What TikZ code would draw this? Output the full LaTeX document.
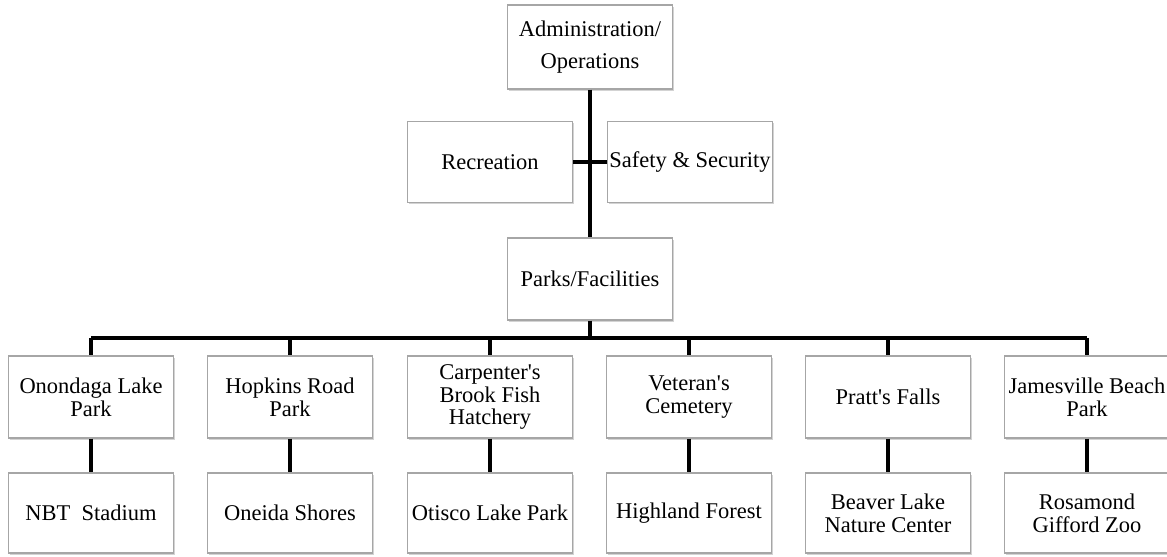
\documentclass[tikz,border=0pt]{standalone}
\usepackage{fontspec}
\setmainfont{Liberation Serif}
\usepackage{tikz}
\usetikzlibrary{positioning,shadows}
\usepackage{xcolor}

\tikzset{
	box/.style={draw=gray!70, fill=white, line width=0.6pt, minimum width=3.3cm,
		minimum height=1.64cm, inner sep=0pt, align=center,
		font=\fontsize{12.8}{13}\selectfont,
		drop shadow={shadow xshift=0.6pt, shadow yshift=-0.9pt, opacity=0.35, fill=gray}},
	link/.style={line width=2.2pt, black}
}
\newcommand{\apos}{\textquotesingle}

\begin{document}
\begin{tikzpicture}[x=0.02cm, y=-0.02cm]
		\useasboundingbox (0,0) rectangle (1167,556);

		% Top of the chart
		\node[box, minimum height=1.68cm, font=\fontsize{12.8}{18.5}\selectfont] (admin) at (590,47) {Administration/\\Operations};
		\node[box, minimum height=1.62cm] (rec) at (490,162) {Recreation};
		\node[box, minimum height=1.62cm] (safe) at (690,162) {Safety \& Security};
		\node[box] (parks) at (590,279) {Parks/Facilities};

		% Trunk
		\draw[link] (admin) -- (parks);
		\draw[link] (rec) -- (safe);

		% Parks and facilities
		\node[box] (topa) at (91,397) {Onondaga Lake\\Park};
		\node[box] (topb) at (290,397) {Hopkins Road\\Park};
		\node[box] (topc) at (490,397) {Carpenter\apos s\\Brook Fish\\Hatchery};
		\node[box] (topd) at (689,397) {Veteran\apos s\\Cemetery};
		\node[box] (tope) at (888,397) {Pratt\apos s Falls};
		\node[box] (topf) at (1087,397) {Jamesville Beach\\Park};

		\node[box, minimum height=1.6cm] (bota) at (91,513) {NBT~ Stadium};
		\node[box, minimum height=1.6cm] (botb) at (290,513) {Oneida Shores};
		\node[box, minimum height=1.6cm] (botc) at (490,513) {Otisco Lake Park};
		\node[box, minimum height=1.6cm] (botd) at (689,513) {Highland Forest};
		\node[box, minimum height=1.6cm] (bote) at (888,513) {Beaver Lake\\Nature Center};
		\node[box, minimum height=1.6cm] (botf) at (1087,513) {Rosamond\\Gifford Zoo};

		% Bar under Parks/Facilities
		\coordinate (bar) at (590,338);
		\draw[link] (parks) -- (bar);
		\draw[link] (topa |- bar) -- (topf |- bar);
		\foreach \k in {a,b,c,d,e,f} {
			\draw[link] (top\k |- bar) -- (top\k);
			\draw[link] (top\k) -- (bot\k);
		}
	\end{tikzpicture}
\end{document}
